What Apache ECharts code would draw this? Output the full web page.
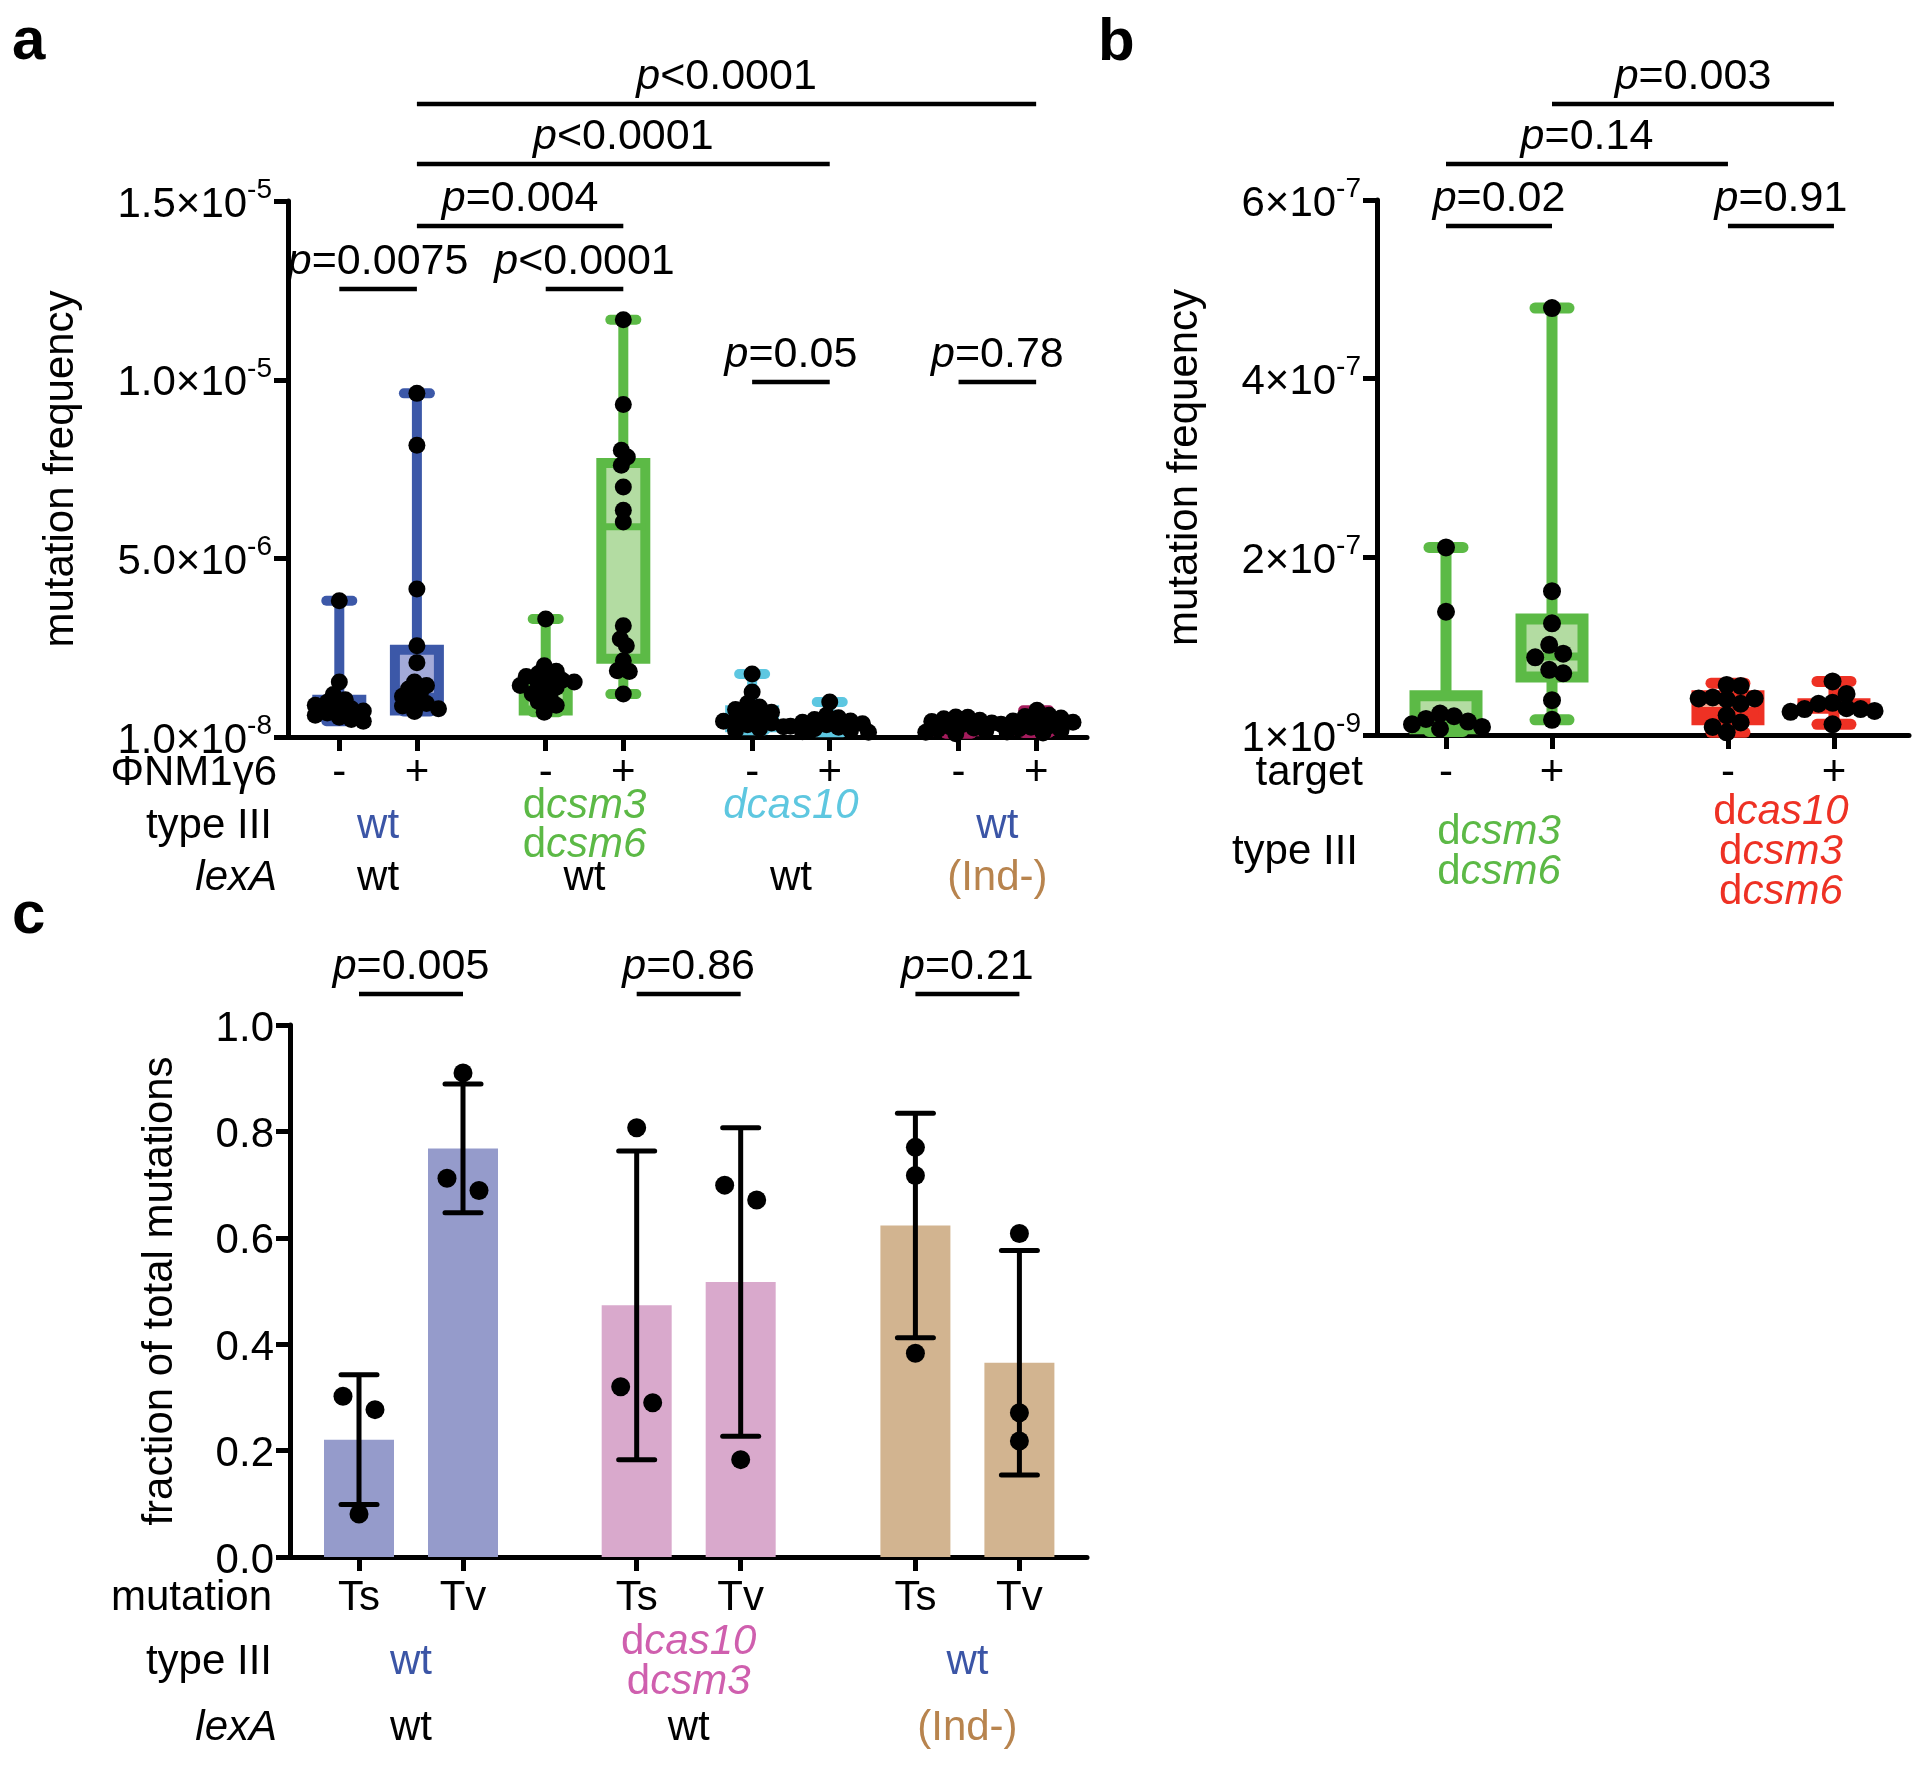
<!DOCTYPE html>
<html><head><meta charset="utf-8">
<script src="https://cdn.jsdelivr.net/npm/echarts@6/dist/echarts.min.js"></script>
<style>html,body{margin:0;padding:0;background:#fff}#c{width:1920px;height:1765px}</style>
</head><body><div id="c"></div>
<script>
// ===================== DATA =====================
// ---- panel a ----
const aTickLabels = ['-', '+', '-', '+', '-', '+', '-', '+'];
const aTypeIII = [['wt'], ['dcsm3', 'dcsm6'], ['dcas10'], ['wt']];
const aLexA = ['wt', 'wt', 'wt', '(Ind-)'];
const aYTicks = [1e-8, 5e-6, 1e-5, 1.5e-5];
const aYMant = ['1.0', '5.0', '1.0', '1.5'];
const aYExp = ['-8', '-6', '-5', '-5'];
// box stats: [min, Q1, median, Q3, max]
const aBox = [
  [0.45e-6, 0.62e-6, 0.78e-6, 1.05e-6, 3.82e-6],
  [0.72e-6, 0.75e-6, 1.15e-6, 2.45e-6, 9.62e-6],
  [0.70e-6, 0.75e-6, 1.30e-6, 1.52e-6, 3.31e-6],
  [1.21e-6, 2.20e-6, 5.89e-6, 7.67e-6, 11.68e-6],
  [0.20e-6, 0.28e-6, 0.47e-6, 0.76e-6, 1.77e-6],
  [0.14e-6, 0.22e-6, 0.35e-6, 0.45e-6, 0.99e-6],
  [0.10e-6, 0.17e-6, 0.30e-6, 0.44e-6, 0.57e-6],
  [0.12e-6, 0.18e-6, 0.32e-6, 0.47e-6, 0.76e-6]
];
const aDots = [
  [3.82e-6, 1.55e-6, 1.2e-6, 1.05e-6, 0.98e-6, 0.9e-6, 0.85e-6, 0.8e-6, 0.74e-6, 0.68e-6, 0.62e-6, 0.56e-6, 0.5e-6, 0.45e-6],
  [9.62e-6, 8.17e-6, 4.15e-6, 2.56e-6, 2.09e-6, 1.55e-6, 1.45e-6, 1.35e-6, 1.25e-6, 1.15e-6, 1.05e-6, 0.95e-6, 0.88e-6, 0.8e-6, 0.72e-6],
  [3.31e-6, 2.0e-6, 1.85e-6, 1.78e-6, 1.7e-6, 1.65e-6, 1.6e-6, 1.55e-6, 1.5e-6, 1.45e-6, 1.4e-6, 1.3e-6, 1.22e-6, 1.1e-6, 1.0e-6, 0.9e-6, 0.7e-6],
  [11.68e-6, 9.31e-6, 8.03e-6, 7.84e-6, 7.61e-6, 7.0e-6, 6.35e-6, 6.02e-6, 3.12e-6, 2.75e-6, 2.56e-6, 2.14e-6, 1.86e-6, 1.84e-6, 1.21e-6],
  [1.77e-6, 1.27e-6, 0.95e-6, 0.85e-6, 0.78e-6, 0.7e-6, 0.62e-6, 0.55e-6, 0.5e-6, 0.45e-6, 0.4e-6, 0.35e-6, 0.3e-6, 0.25e-6, 0.2e-6],
  [0.99e-6, 0.62e-6, 0.55e-6, 0.5e-6, 0.46e-6, 0.42e-6, 0.38e-6, 0.35e-6, 0.31e-6, 0.28e-6, 0.24e-6, 0.2e-6, 0.16e-6, 0.14e-6],
  [0.57e-6, 0.56e-6, 0.52e-6, 0.48e-6, 0.44e-6, 0.4e-6, 0.35e-6, 0.3e-6, 0.26e-6, 0.22e-6, 0.18e-6, 0.14e-6, 0.1e-6],
  [0.76e-6, 0.62e-6, 0.58e-6, 0.54e-6, 0.5e-6, 0.46e-6, 0.42e-6, 0.37e-6, 0.32e-6, 0.28e-6, 0.24e-6, 0.2e-6, 0.15e-6, 0.12e-6]
];
const aPvals = [
  {from: 0, to: 1, text: '=0.0075'}, {from: 2, to: 3, text: '<0.0001'},
  {from: 1, to: 3, text: '=0.004'}, {from: 1, to: 5, text: '<0.0001'},
  {from: 1, to: 7, text: '<0.0001'}, {from: 4, to: 5, text: '=0.05'},
  {from: 6, to: 7, text: '=0.78'}
];

// ---- panel b ----
const bTickLabels = ['-', '+', '-', '+'];
const bTypeIII = [['dcsm3', 'dcsm6'], ['dcas10', 'dcsm3', 'dcsm6']];
const bYTicks = [1e-9, 2e-7, 4e-7, 6e-7];
const bYMant = ['1', '2', '4', '6'];
const bYExp = ['-9', '-7', '-7', '-7'];
const bBox = [
  [0.05e-7, 0.08e-7, 0.15e-7, 0.45e-7, 2.11e-7],
  [0.18e-7, 0.66e-7, 0.89e-7, 1.31e-7, 4.79e-7],
  [0.04e-7, 0.18e-7, 0.28e-7, 0.45e-7, 0.59e-7],
  [0.13e-7, 0.31e-7, 0.33e-7, 0.36e-7, 0.61e-7]
];
const bDots = [
  [2.11e-7, 1.39e-7, 0.25e-7, 0.22e-7, 0.19e-7, 0.16e-7, 0.13e-7, 0.1e-7, 0.08e-7],
  [4.79e-7, 1.62e-7, 1.26e-7, 1.02e-7, 0.92e-7, 0.88e-7, 0.74e-7, 0.70e-7, 0.40e-7, 0.18e-7],
  [0.57e-7, 0.56e-7, 0.43e-7, 0.42e-7, 0.42e-7, 0.41e-7, 0.36e-7, 0.23e-7, 0.15e-7, 0.10e-7, 0.04e-7],
  [0.61e-7, 0.47e-7, 0.37e-7, 0.36e-7, 0.31e-7, 0.30e-7, 0.30e-7, 0.28e-7, 0.27e-7, 0.13e-7]
];
const bPvals = [
  {from: 0, to: 1, text: '=0.02'}, {from: 2, to: 3, text: '=0.91'},
  {from: 0, to: 2, text: '=0.14'}, {from: 1, to: 3, text: '=0.003'}
];

// ---- panel c ----
const cTickLabels = ['Ts', 'Tv', 'Ts', 'Tv', 'Ts', 'Tv'];
const cTypeIII = [['wt'], ['dcas10', 'dcsm3'], ['wt']];
const cLexA = ['wt', 'wt', '(Ind-)'];
const cYTicks = [0, 0.2, 0.4, 0.6, 0.8, 1.0];
const cMeans = [0.2205, 0.768, 0.473, 0.517, 0.623, 0.365];
const cSD = [0.122, 0.121, 0.290, 0.290, 0.211, 0.211];
const cDots = [
  [0.302, 0.277, 0.081], [0.910, 0.712, 0.689], [0.807, 0.320, 0.290],
  [0.699, 0.671, 0.183], [0.770, 0.717, 0.383], [0.608, 0.271, 0.218]
];
const cPvals = [
  {from: 0, to: 1, text: '=0.005'}, {from: 2, to: 3, text: '=0.86'}, {from: 4, to: 5, text: '=0.21'}
];

// ===================== LAYOUT / STYLE =====================
const F = '"Liberation Sans", Arial, Helvetica, sans-serif';
const aPos = [0, 1, 2.66, 3.66, 5.32, 6.32, 7.98, 8.98];
const aCenters = [0.5, 3.16, 5.82, 8.48];
const bPos = [0, 1, 2.66, 3.66];
const bCenters = [0.5, 3.16];
const cPos = [0, 1, 2.67, 3.67, 5.35, 6.35];
const cCenters = [0.5, 3.17, 5.85];

const PAL = {
  blue: {stroke: '#3c58a8', fill: '#a3aad8'},
  green: {stroke: '#5cba46', fill: '#b3dca2'},
  cyan: {stroke: '#5dc7e1', fill: '#b0e3f0'},
  crimson: {stroke: '#a51c5d', fill: '#d68aab'},
  red: {stroke: '#ee3124', fill: '#f6a891'}
};
const aBoxColors = [PAL.blue, PAL.blue, PAL.green, PAL.green, PAL.cyan, PAL.cyan, PAL.crimson, PAL.crimson];
const bBoxColors = [PAL.green, PAL.green, PAL.red, PAL.red];
const cBarColors = ['#959bcb', '#959bcb', '#d9a9cc', '#d9a9cc', '#d2b490', '#d2b490'];

const aTypeStyle = [{c: 'bl'}, {c: 'gr'}, {c: 'cy', allItalic: true, top: true}, {c: 'bl'}];
const aLexStyle = ['k', 'k', 'k', 'br'];
const bTypeStyle = [{c: 'gr'}, {c: 'rd'}];
const cTypeStyle = [{c: 'bl'}, {c: 'pk'}, {c: 'bl'}];
const cLexStyle = ['k', 'k', 'br'];

const TXT = {k: '#000', bl: '#3b55a6', gr: '#5cb946', cy: '#5ec7e0', br: '#b8844e', rd: '#ee3124', pk: '#cf5fae'};
function richSet(size, lh) {
  const r = {};
  for (const k in TXT) {
    r[k] = {color: TXT[k], fontSize: size, fontFamily: F, lineHeight: lh};
    r[k + 'I'] = {color: TXT[k], fontSize: size, fontFamily: F, fontStyle: 'italic', lineHeight: lh};
  }
  return r;
}
function gene(name, ck, allItalic) {
  if (name === 'wt' || name[0] === '(') return '{' + ck + '|' + name + '}';
  if (allItalic) return '{' + ck + 'I|' + name + '}';
  return '{' + ck + '|' + name[0] + '}{' + ck + 'I|' + name.slice(1) + '}';
}
function nearest(arr, v) {
  let b = 0, d = Infinity;
  arr.forEach((a, i) => { const dd = Math.abs(a - v); if (dd < d) { d = dd; b = i; } });
  return b;
}
const supRich = {
  m: {fontSize: 42, fontFamily: F, color: '#000', lineHeight: 50, verticalAlign: 'bottom'},
  s: {fontSize: 28, fontFamily: F, color: '#000', lineHeight: 28, verticalAlign: 'top'}
};

// grids
const G = {
  a: {left: 288, top: 201, width: 799, height: 536},
  b: {left: 1377, top: 200, width: 532, height: 535},
  c: {left: 290, top: 1025, width: 797, height: 532}
};
function xRange(pos0px, unit, left, width) {
  const min = -(pos0px - left) / unit;
  return {min: min, max: min + width / unit};
}
const aX = xRange(339.3, 77.6, G.a.left, G.a.width);
const bX = xRange(1446, 106, G.b.left, G.b.width);
const cX = xRange(359, 104, G.c.left, G.c.width);

const AX_LINE = {show: true, onZero: false, lineStyle: {color: '#000', width: 5}};

function mainX(grid, rng, pos, labels, margin) {
  return {
    type: 'value', gridIndex: grid, position: 'bottom', min: rng.min, max: rng.max,
    axisLine: AX_LINE,
    axisTick: {show: true, length: 14, inside: false, customValues: pos, lineStyle: {color: '#000', width: 5}},
    axisLabel: {show: true, customValues: pos, margin: margin, verticalAlign: 'middle',
      fontSize: 42, fontFamily: F, color: '#000',
      formatter: v => labels[nearest(pos, v)]},
    splitLine: {show: false}
  };
}
function rowX(grid, rng, offset, centers, name, nameGap, nameItalic, fmt, lh) {
  return {
    type: 'value', gridIndex: grid, position: 'bottom', offset: offset, min: rng.min, max: rng.max,
    axisLine: {show: false, onZero: false}, axisTick: {show: false}, splitLine: {show: false},
    axisLabel: centers ? {show: true, customValues: centers, margin: 0, verticalAlign: 'middle', align: 'center',
      formatter: v => fmt(nearest(centers, v)), rich: richSet(42, lh || 40)} : {show: false},
    name: name, nameLocation: 'start', nameGap: nameGap, nameMoveOverlap: false,
    nameTextStyle: {fontSize: 42, fontFamily: F, color: '#000', fontStyle: nameItalic ? 'italic' : 'normal',
      align: 'right', verticalAlign: 'middle'}
  };
}
function typeFmt(list, styles) {
  return i => {
    const st = styles[i];
    let s = list[i].map(n => gene(n, st.c, st.allItalic)).join('\n');
    if (st.top) s += '\n{' + st.c + '| }';
    return s;
  };
}
function lexFmt(list, styles) { return i => gene(list[i], styles[i], false); }

function valY(grid, ticks, fmt, rng, name, gap, interval) {
  const o = {
    type: 'value', gridIndex: grid, min: rng[0], max: rng[1],
    axisLine: AX_LINE,
    axisTick: {show: true, length: 14, lineStyle: {color: '#000', width: 5}},
    axisLabel: {show: true, margin: 16, formatter: fmt, fontSize: 42, fontFamily: F, color: '#000', rich: supRich},
    splitLine: {show: false},
    name: name, nameLocation: 'middle', nameGap: gap, nameMoveOverlap: false,
    nameTextStyle: {fontSize: 42, fontFamily: F, color: '#000'}
  };
  if (interval) { o.interval = interval; }
  else { o.axisTick.customValues = ticks; o.axisLabel.customValues = ticks; }
  return o;
}
function supFmt(ticks, mant, exp) {
  return v => { const i = nearest(ticks, v); return '{m|' + mant[i] + '×10}{s|' + exp[i] + '}'; };
}

function boxRender(colors, boxW, capW, lw, medW) {
  return function (params, api) {
    const x = api.value(0);
    const g = api.value(6);
    const col = colors[g];
    const p = [1, 2, 3, 4, 5].map(i => api.coord([x, api.value(i)]));
    const cx = p[0][0];
    const yMin = p[0][1], yQ1 = p[1][1], yMed = p[2][1], yQ3 = p[3][1], yMax = p[4][1];
    const hw = boxW / 2, cw = capW / 2;
    return {type: 'group', children: [
      {type: 'line', shape: {x1: cx, y1: yMax, x2: cx, y2: yMin}, style: {stroke: col.stroke, lineWidth: lw}},
      {type: 'line', shape: {x1: cx - cw, y1: yMax, x2: cx + cw, y2: yMax}, style: {stroke: col.stroke, lineWidth: lw, lineCap: 'round'}},
      {type: 'line', shape: {x1: cx - cw, y1: yMin, x2: cx + cw, y2: yMin}, style: {stroke: col.stroke, lineWidth: lw, lineCap: 'round'}},
      {type: 'rect', shape: {x: cx - hw, y: yQ3, width: 2 * hw, height: Math.max(yQ1 - yQ3, 0.5)},
        style: {fill: col.fill, stroke: col.stroke, lineWidth: lw}},
      {type: 'line', shape: {x1: cx - hw, y1: yMed, x2: cx + hw, y2: yMed}, style: {stroke: col.stroke, lineWidth: medW}}
    ]};
  };
}
function barRender(params, api) {
  const x = api.value(0), m = api.value(1), g = api.value(3);
  const p0 = api.coord([x, 0]), p1 = api.coord([x, m]);
  const w = 70;
  return {type: 'rect', shape: {x: p0[0] - w / 2, y: p1[1], width: w, height: p0[1] - p1[1]},
    style: {fill: cBarColors[g]}};
}
function errRender(params, api) {
  const x = api.value(0), m = api.value(1), sd = api.value(2);
  const hi = api.coord([x, m + sd]), lo = api.coord([x, m - sd]);
  const cx = hi[0], cw = 18;
  const st = {stroke: '#000', lineWidth: 5};
  return {type: 'group', children: [
    {type: 'line', shape: {x1: cx, y1: hi[1], x2: cx, y2: lo[1]}, style: st},
    {type: 'line', shape: {x1: cx - cw, y1: hi[1], x2: cx + cw, y2: hi[1]}, style: Object.assign({lineCap: 'round'}, st)},
    {type: 'line', shape: {x1: cx - cw, y1: lo[1], x2: cx + cw, y2: lo[1]}, style: Object.assign({lineCap: 'round'}, st)}
  ]};
}

const aBoxData = aBox.map((b, i) => [aPos[i]].concat(b, [i]));
const bBoxData = bBox.map((b, i) => [bPos[i]].concat(b, [i]));
const cBarData = cMeans.map((m, i) => [cPos[i], m, cSD[i], i]);
function rawDots(pos, groups) {
  const d = [];
  groups.forEach((vals, g) => vals.forEach(v => d.push([pos[g], v])));
  return d;
}

const chart = echarts.init(document.getElementById('c'), null, {width: 1920, height: 1765});

const gridBase = {containLabel: false, outerBoundsMode: 'none'};
const option = {
  backgroundColor: '#fff',
  animation: false,
  grid: [
    Object.assign({}, gridBase, G.a),
    Object.assign({}, gridBase, G.b),
    Object.assign({}, gridBase, G.c)
  ],
  xAxis: [
    mainX(0, aX, aPos, aTickLabels, 36),                                   // 0
    rowX(0, aX, 36, null, 'ΦNM1γ6', 11, false),                            // 1
    rowX(0, aX, 89, aCenters, 'type III', 16, false, typeFmt(aTypeIII, aTypeStyle), 39), // 2
    rowX(0, aX, 141, aCenters, 'lexA', 11, true, lexFmt(aLexA, aLexStyle)),  // 3
    mainX(1, bX, bPos, bTickLabels, 38),                                   // 4
    rowX(1, bX, 38, null, 'target', 14, false),                            // 5
    rowX(1, bX, 117, bCenters, 'type III', 19, false, typeFmt(bTypeIII, bTypeStyle), 40), // 6
    mainX(2, cX, cPos, cTickLabels, 41),                                   // 7
    rowX(2, cX, 41, null, 'mutation', 18, false),                          // 8
    rowX(2, cX, 105, cCenters, 'type III', 18, false, typeFmt(cTypeIII, cTypeStyle), 40), // 9
    rowX(2, cX, 171, cCenters, 'lexA', 13, true, lexFmt(cLexA, cLexStyle))  // 10
  ],
  yAxis: [
    valY(0, aYTicks, supFmt(aYTicks, aYMant, aYExp), [1e-8, 1.5e-5], 'mutation frequency', 206),
    valY(1, bYTicks, supFmt(bYTicks, bYMant, bYExp), [1e-9, 6e-7], 'mutation frequency', 171),
    valY(2, cYTicks, v => '{m|' + v.toFixed(1) + '}', [0, 1], 'fraction of total mutations', 109, 0.2)
  ],
  series: [
    {type: 'custom', id: 'boxA', xAxisIndex: 0, yAxisIndex: 0, z: 2, silent: true,
      encode: {x: 0, y: [1, 2, 3, 4, 5]}, renderItem: boxRender(aBoxColors, 44, 26, 10, 7), data: aBoxData},
    {type: 'scatter', id: 'dotsA', xAxisIndex: 0, yAxisIndex: 0, z: 3, silent: true,
      symbol: 'circle', symbolSize: 17, itemStyle: {color: '#000', opacity: 1}, data: rawDots(aPos, aDots)},
    {type: 'custom', id: 'boxB', xAxisIndex: 4, yAxisIndex: 1, z: 2, silent: true,
      encode: {x: 0, y: [1, 2, 3, 4, 5]}, renderItem: boxRender(bBoxColors, 62, 34, 11, 8), data: bBoxData},
    {type: 'scatter', id: 'dotsB', xAxisIndex: 4, yAxisIndex: 1, z: 3, silent: true,
      symbol: 'circle', symbolSize: 18, itemStyle: {color: '#000', opacity: 1}, data: rawDots(bPos, bDots)},
    {type: 'custom', id: 'barsC', xAxisIndex: 7, yAxisIndex: 2, z: 1, silent: true,
      encode: {x: 0, y: 1}, renderItem: barRender, data: cBarData},
    {type: 'scatter', id: 'dotsC', xAxisIndex: 7, yAxisIndex: 2, z: 2, silent: true,
      symbol: 'circle', symbolSize: 19, itemStyle: {color: '#000', opacity: 1}, data: rawDots(cPos, cDots)},
    {type: 'custom', id: 'errC', xAxisIndex: 7, yAxisIndex: 2, z: 3, silent: true,
      encode: {x: 0, y: 1}, renderItem: errRender, data: cBarData}
  ]
};
chart.setOption(option);

// ---------- second pass: dot swarm + p-value brackets (via the library's scales) ----------
function swarmOffsets(pys, thr, step) {
  const n = pys.length;
  const order = [...Array(n).keys()].sort((a, b) => pys[a] - pys[b]);
  const off = new Array(n).fill(0), placed = [];
  for (const i of order) {
    for (let k = 0; k < 400; k++) {
      const c = k === 0 ? 0 : (k % 2 === 1 ? 1 : -1) * Math.ceil(k / 2) * step;
      let ok = true;
      for (const j of placed) {
        const dx = off[j] - c, dy = pys[j] - pys[i];
        if (dx * dx + dy * dy < thr * thr) { ok = false; break; }
      }
      if (ok) { off[i] = c; break; }
    }
    placed.push(i);
  }
  let cl = [order[0]];
  const flush = () => { const m = cl.reduce((s, j) => s + off[j], 0) / cl.length; cl.forEach(j => off[j] -= m); };
  for (let t = 1; t < n; t++) {
    const i = order[t], pr = order[t - 1];
    if (pys[i] - pys[pr] < thr) cl.push(i); else { flush(); cl = [i]; }
  }
  flush();
  return off;
}
function swarmData(xIdx, yIdx, pos, groups, thr, step) {
  const unit = chart.convertToPixel({xAxisIndex: xIdx}, 1) - chart.convertToPixel({xAxisIndex: xIdx}, 0);
  const out = [];
  groups.forEach((vals, g) => {
    const pys = vals.map(v => chart.convertToPixel({yAxisIndex: yIdx}, v));
    const off = swarmOffsets(pys, thr, step);
    vals.forEach((v, i) => out.push([pos[g] + off[i] / unit, v]));
  });
  return out;
}
function brackets(xIdx, pos, list, levels) {
  const els = [];
  list.forEach((b, i) => {
    const x1 = chart.convertToPixel({xAxisIndex: xIdx}, pos[b.from]);
    const x2 = chart.convertToPixel({xAxisIndex: xIdx}, pos[b.to]);
    const y = levels[i];
    els.push({type: 'line', silent: true, shape: {x1: x1, y1: y, x2: x2, y2: y}, style: {stroke: '#000', lineWidth: 4.5}});
    els.push({type: 'text', silent: true, style: {
      x: (x1 + x2) / 2, y: y - 27, align: 'center', verticalAlign: 'middle',
      text: '{i|p}{n|' + b.text + '}',
      rich: {i: {fontSize: 43, fontFamily: F, fontStyle: 'italic', fill: '#000'}, n: {fontSize: 43, fontFamily: F, fill: '#000'}}
    }});
  });
  return els;
}
const aLevels = [289, 289, 226, 164, 104, 382, 382];
const bLevels = [226, 226, 164, 104];
const cLevels = [994, 994, 994];
const letters = [
  {t: 'a', x: 12, y: 42}, {t: 'b', x: 1098, y: 43}, {t: 'c', x: 12, y: 916}
].map(l => ({type: 'text', silent: true, style: {x: l.x, y: l.y, text: l.t, align: 'left', verticalAlign: 'middle',
  fontSize: 60, fontWeight: 'bold', fontFamily: F, fill: '#000'}}));

chart.setOption({
  series: [
    {id: 'dotsA', data: swarmData(0, 0, aPos, aDots, 9, 6)},
    {id: 'dotsB', data: swarmData(4, 1, bPos, bDots, 14, 14)},
    {id: 'dotsC', data: swarmData(7, 2, cPos, cDots, 18, 32)}
  ],
  graphic: {elements: letters.concat(
    brackets(0, aPos, aPvals, aLevels),
    brackets(4, bPos, bPvals, bLevels),
    brackets(7, cPos, cPvals, cLevels))}
});
</script>
</body></html>
